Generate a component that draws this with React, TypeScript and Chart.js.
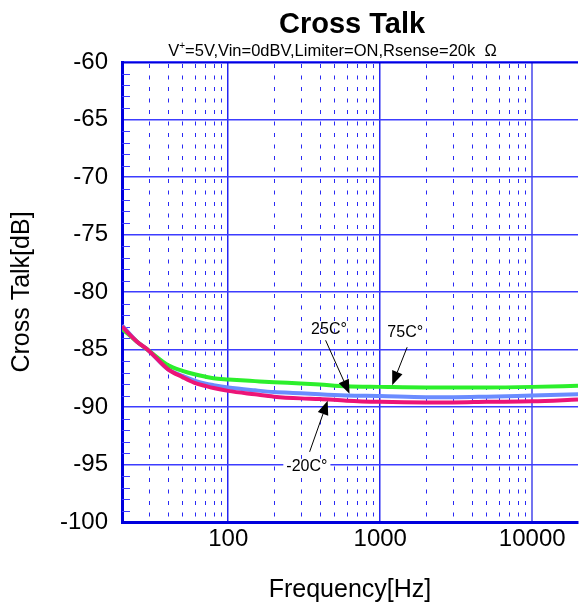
import React, { useEffect, useRef } from "react";
import { Chart, registerables } from "chart.js";

Chart.register(...registerables);

const FONT = "'Liberation Sans', Arial, Helvetica, sans-serif";

// ---- data ----
const frequencies = [20, 25, 30, 40, 50, 60, 70, 80, 100, 150, 200, 300, 400, 600, 1000, 2000, 3000, 5000, 10000, 20000];
const crossTalk75C = [-83.2, -84.3, -85.1, -86.35, -86.85, -87.15, -87.35, -87.5, -87.6, -87.75, -87.85, -87.95, -88.05, -88.2, -88.25, -88.3, -88.3, -88.3, -88.25, -88.15];
const crossTalk25C = [-82.9, -84.3, -85.1, -86.7, -87.3, -87.7, -87.95, -88.1, -88.3, -88.55, -88.7, -88.8, -88.9, -89.0, -89.05, -89.15, -89.15, -89.1, -89.0, -88.9];
const crossTalkMinus20C = [-83.0, -84.3, -85.1, -86.7, -87.4, -87.9, -88.15, -88.35, -88.6, -88.9, -89.1, -89.25, -89.3, -89.45, -89.55, -89.6, -89.6, -89.55, -89.5, -89.35];

const xTickLabels = [100, 1000, 10000];
const xMinorTicks = [30, 40, 50, 60, 70, 80, 90, 200, 300, 400, 500, 600, 700, 800, 900, 2000, 3000, 4000, 5000, 6000, 7000, 8000, 9000];
const xAllTicks = [20, 30, 40, 50, 60, 70, 80, 90, 100, 200, 300, 400, 500, 600, 700, 800, 900, 1000, 2000, 3000, 4000, 5000, 6000, 7000, 8000, 9000, 10000, 20000];
const yMinorTicks = [-99, -98, -97, -96, -94, -93, -92, -91, -89, -88, -87, -86, -84, -83, -82, -81, -79, -78, -77, -76, -74, -73, -72, -71, -69, -68, -67, -66, -64, -63, -62, -61];

const chartTitle = "Cross Talk";
const subtitleParts = ["V", "+", "=5V,Vin=0dBV,Limiter=ON,Rsense=20k  \u03A9"];

// annotations in data space [frequency, dB]
const annotationLabels = ["25C\u00B0", "75C\u00B0", "-20C\u00B0"];
const annotationTextAt = [[460, -83.3], [1460, -83.5], [329, -95.2]];
const annotationArrowFrom = [[437, -84.2], [1503, -84.8], [343, -93.9]];
const annotationArrowTo = [[628, -88.85], [1198, -88.1], [451, -89.45]];
const annotationBackground = [false, false, true];

const GREEN = "#2cef2c";
const BLUE = "#6a8cff";
const RED = "#ec1477";
const AXIS_BLUE = "#0000dd";
const GRID_BLUE = "#3c3cff";

const decorPlugin = {
  id: "decor",
  beforeDatasetsDraw(chart: any) {
    const { ctx, chartArea, scales } = chart;
    const xs = scales.x;
    const ys = scales.y;
    ctx.save();
    ctx.beginPath();
    ctx.rect(chartArea.left, chartArea.top, chartArea.right - chartArea.left, chartArea.bottom - chartArea.top);
    ctx.clip();
    ctx.strokeStyle = "#2a2af4";
    ctx.lineWidth = 1;
    ctx.setLineDash([4, 7.5]);
    for (const f of xMinorTicks) {
      const x = Math.round(xs.getPixelForValue(f)) + 0.5;
      ctx.beginPath();
      ctx.moveTo(x, chartArea.top + 2);
      ctx.lineTo(x, chartArea.bottom);
      ctx.stroke();
    }
    ctx.setLineDash([]);
    ctx.strokeStyle = GRID_BLUE;
    for (const v of yMinorTicks) {
      const y = Math.round(ys.getPixelForValue(v)) + 0.5;
      ctx.beginPath();
      ctx.moveTo(chartArea.left, y);
      ctx.lineTo(chartArea.left + 8, y);
      ctx.stroke();
    }
    // top border
    ctx.strokeStyle = AXIS_BLUE;
    ctx.lineWidth = 2;
    ctx.beginPath();
    ctx.moveTo(chartArea.left, chartArea.top + 0.5);
    ctx.lineTo(chartArea.right, chartArea.top + 0.5);
    ctx.stroke();
    ctx.restore();
  },
  afterDatasetsDraw(chart: any) {
    const { ctx, scales } = chart;
    const xs = scales.x;
    const ys = scales.y;
    ctx.save();
    ctx.font = `16px ${FONT}`;
    ctx.textAlign = "center";
    ctx.textBaseline = "middle";
    for (let i = 0; i < annotationLabels.length; i++) {
      const tx = xs.getPixelForValue(annotationTextAt[i][0]);
      const ty = ys.getPixelForValue(annotationTextAt[i][1]);
      const w = ctx.measureText(annotationLabels[i]).width;
      if (annotationBackground[i]) {
        ctx.fillStyle = "#ffffff";
        ctx.fillRect(tx - w / 2 - 3, ty - 8, w + 6, 16);
      }
      ctx.fillStyle = "#000000";
      ctx.fillText(annotationLabels[i], tx, ty);
      const x0 = xs.getPixelForValue(annotationArrowFrom[i][0]);
      const y0 = ys.getPixelForValue(annotationArrowFrom[i][1]);
      const x1 = xs.getPixelForValue(annotationArrowTo[i][0]);
      const y1 = ys.getPixelForValue(annotationArrowTo[i][1]);
      const ang = Math.atan2(y1 - y0, x1 - x0);
      const headLen = 14;
      const headHalf = 5.5;
      const bx = x1 - headLen * Math.cos(ang);
      const by = y1 - headLen * Math.sin(ang);
      ctx.strokeStyle = "#000000";
      ctx.lineWidth = 1;
      ctx.beginPath();
      ctx.moveTo(x0, y0);
      ctx.lineTo(bx, by);
      ctx.stroke();
      ctx.beginPath();
      ctx.moveTo(x1, y1);
      ctx.lineTo(bx + headHalf * Math.sin(ang), by - headHalf * Math.cos(ang));
      ctx.lineTo(bx - headHalf * Math.sin(ang), by + headHalf * Math.cos(ang));
      ctx.closePath();
      ctx.fill();
    }
    ctx.restore();
  },
  afterDraw(chart: any) {
    const { ctx, chartArea } = chart;
    const cx = (chartArea.left + chartArea.right) / 2;
    ctx.save();
    ctx.fillStyle = "#000000";
    ctx.textBaseline = "middle";
    ctx.textAlign = "center";
    ctx.font = `bold 29px ${FONT}`;
    ctx.fillText(chartTitle, cx + 2, 24.5);
    // subtitle with superscript
    ctx.textAlign = "left";
    ctx.font = `16.5px ${FONT}`;
    const w0 = ctx.measureText(subtitleParts[0]).width;
    const w2 = ctx.measureText(subtitleParts[2]).width;
    ctx.font = `10px ${FONT}`;
    const w1 = ctx.measureText(subtitleParts[1]).width;
    const total = w0 + w1 + w2;
    let x = cx - 17.5 - total / 2;
    const sy = 51;
    ctx.font = `16.5px ${FONT}`;
    ctx.fillText(subtitleParts[0], x, sy);
    x += w0;
    ctx.font = `10px ${FONT}`;
    ctx.fillText(subtitleParts[1], x, sy - 5);
    x += w1;
    ctx.font = `16.5px ${FONT}`;
    ctx.fillText(subtitleParts[2], x, sy);
    ctx.restore();
  },
};

export default function App() {
  const canvasRef = useRef<HTMLCanvasElement | null>(null);

  useEffect(() => {
    const canvas = canvasRef.current;
    if (!canvas) return;
    const mk = (vals: number[]) => frequencies.map((f, i) => ({ x: f, y: vals[i] }));
    const chart = new Chart(canvas, {
      type: "line",
      data: {
        datasets: [
          { label: "-20C°", data: mk(crossTalkMinus20C), borderColor: RED, borderWidth: 4, pointRadius: 0, cubicInterpolationMode: "monotone", fill: false },
          { label: "75C°", data: mk(crossTalk75C), borderColor: GREEN, borderWidth: 4, pointRadius: 0, cubicInterpolationMode: "monotone", fill: false },
          { label: "25C°", data: mk(crossTalk25C), borderColor: BLUE, borderWidth: 4, pointRadius: 0, cubicInterpolationMode: "monotone", fill: false },
        ],
      },
      options: {
        animation: false,
        responsive: false,
        devicePixelRatio: 1,
        layout: { padding: { top: 62, left: 0, right: 0, bottom: 0 } },
        plugins: { legend: { display: false }, tooltip: { enabled: false }, title: { display: false } },
        scales: {
          x: {
            type: "logarithmic",
            min: 20,
            max: 20000,
            afterBuildTicks: (scale: any) => {
              scale.ticks = xAllTicks.map((v) => ({ value: v }));
            },
            afterFit: (scale: any) => {
              scale.height = 86;
            },
            ticks: {
              autoSkip: false,
              maxRotation: 0,
              minRotation: 0,
              padding: 3,
              color: "#000000",
              font: { family: FONT, size: 24 },
              callback: (v: any) => (xTickLabels.includes(Number(v)) ? String(v) : ""),
            },
            grid: {
              drawTicks: false,
              color: (c: any) => {
                if (!c.tick || !xTickLabels.includes(c.tick.value)) return "rgba(0,0,0,0)";
                return c.tick.value === 10000 ? "rgba(70,70,235,0.75)" : "rgba(25,25,240,0.95)";
              },
              lineWidth: (c: any) => (c.tick && c.tick.value === 10000 ? 2 : 1.5),
            },
            border: { display: true, color: AXIS_BLUE, width: 3 },
            title: {
              display: true,
              text: "Frequency[Hz]",
              color: "#000000",
              font: { family: FONT, size: 25 },
              padding: { top: 0, bottom: 3 },
            },
          },
          y: {
            type: "linear",
            min: -100,
            max: -60,
            afterFit: (scale: any) => {
              scale.width = 122;
            },
            ticks: {
              stepSize: 5,
              padding: 14,
              color: "#000000",
              font: { family: FONT, size: 24 },
            },
            grid: {
              drawTicks: false,
              color: GRID_BLUE,
              lineWidth: 1.4,
            },
            border: { display: true, color: AXIS_BLUE, width: 3 },
            title: {
              display: true,
              text: "Cross Talk[dB]",
              color: "#000000",
              font: { family: FONT, size: 25 },
              padding: { top: 7, bottom: 0 },
            },
          },
        },
      },
      plugins: [decorPlugin],
    } as any);
    return () => chart.destroy();
  }, []);

  return (
    <div style={{ position: "absolute", left: 0, top: 0, width: 581, height: 608 }}>
      <canvas ref={canvasRef} width={581} height={608} style={{ display: "block" }} />
    </div>
  );
}
